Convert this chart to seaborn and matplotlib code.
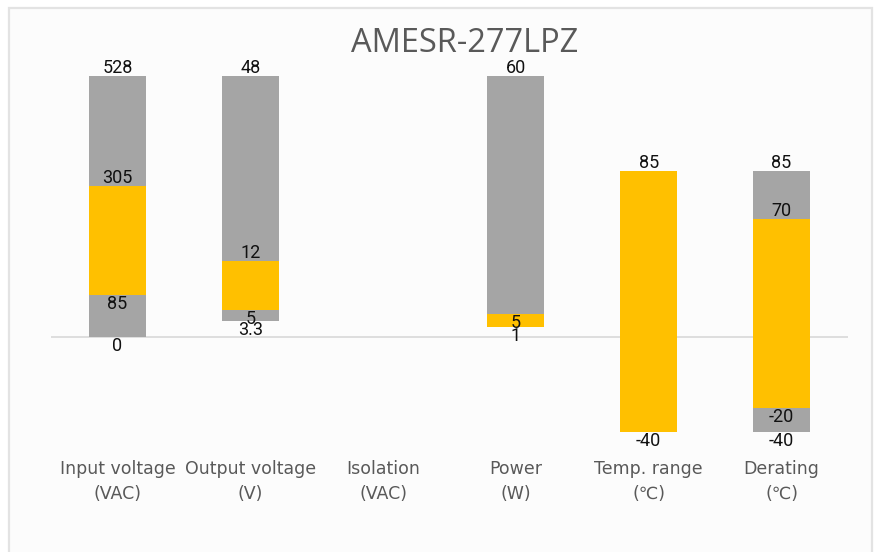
import numpy as np
import pandas as pd
import matplotlib
matplotlib.use("Agg")
import matplotlib.pyplot as plt
import seaborn as sns
from matplotlib.patches import Rectangle

# ---- data (positions are chart units: each category scaled independently) ----
categories = ["Input voltage\n(VAC)", "Output voltage\n(V)", "Isolation\n(VAC)",
              "Power\n(W)", "Temp. range\n(℃)", "Derating\n(℃)"]
min_pos = [0.0, 6.1, 0.0, 3.8, -36.4, -36.4]
lo_pos = [16.0, 10.4, 0.0, 3.8, -36.4, -27.2]
hi_pos = [57.8, 29.0, 0.0, 8.7, 63.6, 45.1]
max_pos = [100.0, 100.0, 0.0, 100.0, 63.6, 63.6]

min_lbl = ["0", "3.3", None, "1", "-40", "-40"]
lo_lbl = ["85", "5", None, None, None, "-20"]
hi_lbl = ["305", "12", None, "5", None, "70"]
max_lbl = ["528", "48", None, "60", "85", "85"]
hi_label_above = [True, True, True, False, True, True]

title = "AMESR-277LPZ"

GRAY = "#a5a5a5"
YELLOW = "#ffc000"

sns.set_theme(style="white")
plt.rcParams["font.family"] = ["Roboto", "DejaVu Sans"]

W, H = 877, 552
fig = plt.figure(figsize=(W / 100, H / 100), dpi=100)
fig.patch.set_facecolor("white")

# chart frame
fig.patches.append(Rectangle((9 / W, -0.05), (872 - 9) / W, 1.05 - 8 / H,
                             transform=fig.transFigure, facecolor="#fcfcfc",
                             edgecolor="#e3e3e3", linewidth=1.6, zorder=-5))

# axes placement: zero line at y=336.7px, 2.607 px per unit
px_per_u = 2.607
y0 = 336.7
ylo, yhi = -45, 105
top_px = y0 - yhi * px_per_u
bot_px = y0 - ylo * px_per_u
ax = fig.add_axes([51 / W, 1 - bot_px / H, (848 - 51) / W, (bot_px - top_px) / H])
ax.set_facecolor("none")
ax.set_zorder(2)

df = pd.DataFrame({"cat": categories, "min": min_pos, "lo": lo_pos,
                   "hi": hi_pos, "max": max_pos})
segments = [("min", "lo", GRAY), ("lo", "hi", YELLOW), ("hi", "max", GRAY)]
for b, t, c in segments:
    d = df.assign(h=df[t] - df[b])
    sns.barplot(data=d, x="cat", y="h", order=categories, bottom=d[b].values,
                color=c, saturation=1, width=0.43, linewidth=0,
                errorbar=None, ax=ax, zorder=2)

ax.axhline(0, color="#d9d9d9", linewidth=1.2, zorder=1)

def put(i, y, txt, above):
    if txt is None:
        return
    off = 2.2 if above else -10.3
    ax.annotate(txt, (i, y), xytext=(0, off), textcoords="offset points",
                ha="center", va="baseline", fontsize=13, color="#111111",
                zorder=5)

for i in range(len(categories)):
    put(i, max_pos[i], max_lbl[i], True)
    put(i, hi_pos[i], hi_lbl[i], hi_label_above[i])
    put(i, lo_pos[i], lo_lbl[i], False)
    put(i, min_pos[i], min_lbl[i], False)

ax.set_xlim(-0.5, len(categories) - 0.5)
ax.set_ylim(ylo, yhi)
ax.set_yticks([])
ax.set_xlabel("")
ax.set_ylabel("")
for s in ax.spines.values():
    s.set_visible(False)
ax.tick_params(axis="x", length=0, pad=4)
ax.set_xticks(range(len(categories)))
ax.set_xticklabels(categories, fontsize=12.5, color="#595959",
                   family=["Liberation Sans Narrow", "DejaVu Sans"],
                   linespacing=1.55)

fig.text(465 / W, 1 - 43 / H, title, ha="center", va="center",
         fontsize=23.5, color="#595959", family=["Open Sans", "DejaVu Sans"])

fig.savefig("out.png", dpi=100, facecolor="white")
